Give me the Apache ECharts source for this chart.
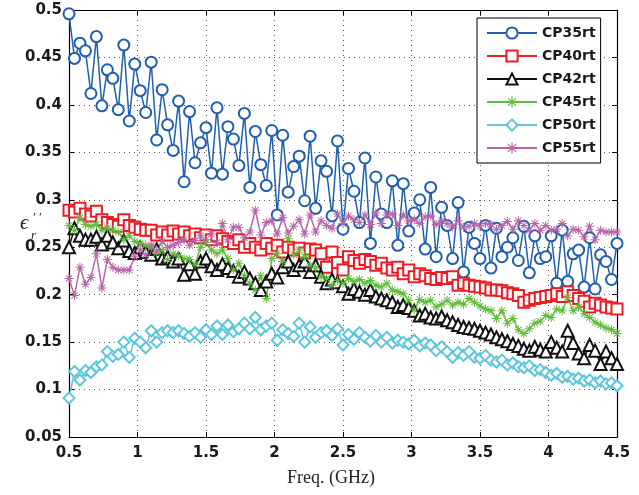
<!DOCTYPE html>
<html>
<head>
<meta charset="utf-8">
<script src="https://cdn.jsdelivr.net/npm/echarts@6/dist/echarts.min.js"></script>
<style>
  html, body { margin: 0; padding: 0; background: #fff; }
  #chart { width: 639px; height: 495px; }
</style>
</head>
<body>
<div id="chart"></div>
<script>
// frequency sweep: 0.5 to 4.5 GHz, 101 points
var fStart = 0.5, fStep = 0.04;

var seriesNames = ['CP35rt', 'CP40rt', 'CP42rt', 'CP45rt', 'CP50rt', 'CP55rt'];

var cp35 = [
  0.496, 0.449, 0.465, 0.457, 0.412, 0.472, 0.399, 0.437, 0.428, 0.395, 0.463,
  0.383, 0.443, 0.415, 0.392, 0.445, 0.363, 0.416, 0.379, 0.352, 0.404,
  0.319, 0.393, 0.339, 0.360, 0.376, 0.328, 0.397, 0.327, 0.377, 0.364,
  0.336, 0.391, 0.313, 0.372, 0.337, 0.315, 0.373, 0.284, 0.368, 0.308,
  0.335, 0.346, 0.299, 0.367, 0.291, 0.341, 0.330, 0.283, 0.362, 0.269,
  0.333, 0.309, 0.276, 0.344, 0.254, 0.324, 0.285, 0.276, 0.320, 0.252,
  0.317, 0.267, 0.286, 0.300, 0.248, 0.313, 0.240, 0.292, 0.273, 0.238,
  0.297, 0.224, 0.271, 0.254, 0.238, 0.273, 0.228, 0.270, 0.240, 0.250,
  0.260, 0.236, 0.272, 0.223, 0.262, 0.238, 0.240, 0.262, 0.212, 0.268,
  0.214, 0.243, 0.247, 0.208, 0.260, 0.206, 0.242, 0.235, 0.216, 0.254
];
var cp40 = [
  0.289, 0.287, 0.291, 0.285, 0.283, 0.288, 0.279, 0.276, 0.274, 0.272, 0.279,
  0.273, 0.271, 0.269, 0.268, 0.268, 0.263, 0.266, 0.263, 0.267, 0.264,
  0.266, 0.262, 0.264, 0.260, 0.263, 0.258, 0.262, 0.259, 0.256, 0.254,
  0.258, 0.250, 0.254, 0.250, 0.247, 0.254, 0.249, 0.252, 0.245, 0.250,
  0.247, 0.249, 0.244, 0.248, 0.247, 0.243, 0.229, 0.245, 0.234, 0.226,
  0.240, 0.236, 0.233, 0.237, 0.235, 0.231, 0.233, 0.228, 0.226, 0.229,
  0.222, 0.226, 0.219, 0.222, 0.220, 0.217, 0.216, 0.218, 0.217, 0.219,
  0.210, 0.212, 0.210, 0.209, 0.208, 0.207, 0.205, 0.205, 0.204, 0.202,
  0.201, 0.199, 0.192, 0.194, 0.196, 0.197, 0.198, 0.199, 0.201, 0.198,
  0.203, 0.199, 0.196, 0.193, 0.187, 0.191, 0.189, 0.187, 0.186, 0.185
];
var cp42 = [
  0.250, 0.270, 0.262, 0.258, 0.258, 0.261, 0.253, 0.262, 0.255, 0.249, 0.257,
  0.246, 0.244, 0.250, 0.245, 0.242, 0.248, 0.238, 0.240, 0.235, 0.238,
  0.221, 0.232, 0.222, 0.235, 0.238, 0.230, 0.226, 0.232, 0.228, 0.225,
  0.219, 0.224, 0.217, 0.212, 0.205, 0.214, 0.222, 0.218, 0.229, 0.235,
  0.226, 0.231, 0.235, 0.224, 0.231, 0.219, 0.212, 0.216, 0.213, 0.209,
  0.201, 0.206, 0.203, 0.200, 0.205, 0.198, 0.196, 0.194, 0.192, 0.187,
  0.189, 0.186, 0.183, 0.178, 0.180, 0.176, 0.175, 0.177, 0.173, 0.171,
  0.168, 0.166, 0.165, 0.164, 0.162, 0.160, 0.158, 0.155, 0.153, 0.151,
  0.148, 0.146, 0.143, 0.141, 0.145, 0.142, 0.140, 0.150, 0.144, 0.140,
  0.162, 0.149, 0.138, 0.133, 0.147, 0.141, 0.127, 0.140, 0.133, 0.127
];
var cp45 = [
  0.273, 0.268, 0.281, 0.274, 0.272, 0.274, 0.268, 0.270, 0.268, 0.266, 0.258,
  0.262, 0.256, 0.254, 0.252, 0.250, 0.244, 0.247, 0.237, 0.243, 0.241,
  0.238, 0.237, 0.232, 0.250, 0.255, 0.247, 0.243, 0.247, 0.238, 0.226,
  0.233, 0.220, 0.212, 0.205, 0.220, 0.196, 0.238, 0.243, 0.235, 0.259,
  0.242, 0.247, 0.240, 0.231, 0.228, 0.219, 0.217, 0.210, 0.215, 0.212,
  0.217, 0.214, 0.216, 0.212, 0.215, 0.210, 0.208, 0.212, 0.205, 0.203,
  0.201, 0.194, 0.184, 0.195, 0.192, 0.194, 0.187, 0.190, 0.194, 0.189,
  0.192, 0.190, 0.196, 0.192, 0.188, 0.185, 0.183, 0.175, 0.183, 0.170,
  0.175, 0.163, 0.159, 0.164, 0.170, 0.172, 0.178, 0.176, 0.185, 0.183,
  0.197, 0.183, 0.187, 0.180, 0.176, 0.171, 0.168, 0.165, 0.163, 0.159
];
var cp50 = [
  0.091, 0.119, 0.110, 0.120, 0.118, 0.124, 0.126, 0.140, 0.135, 0.137, 0.150,
  0.134, 0.154, 0.150, 0.144, 0.162, 0.150, 0.160, 0.162, 0.160, 0.162,
  0.159, 0.156, 0.160, 0.155, 0.163, 0.158, 0.167, 0.158, 0.168, 0.161,
  0.164, 0.170, 0.164, 0.176, 0.163, 0.167, 0.170, 0.152, 0.163, 0.159,
  0.156, 0.170, 0.150, 0.166, 0.155, 0.160, 0.162, 0.157, 0.164, 0.147,
  0.158, 0.153, 0.160, 0.155, 0.151, 0.157, 0.150, 0.155, 0.149, 0.152,
  0.150, 0.148, 0.152, 0.146, 0.149, 0.147, 0.141, 0.145, 0.140, 0.134,
  0.139, 0.136, 0.140, 0.134, 0.133, 0.136, 0.131, 0.129, 0.131, 0.126,
  0.128, 0.124, 0.123, 0.125, 0.120, 0.121, 0.118, 0.115, 0.117, 0.113,
  0.114, 0.111, 0.112, 0.109, 0.110, 0.107, 0.109, 0.106, 0.107, 0.104
];
var cp55 = [
  0.217, 0.199, 0.229, 0.211, 0.218, 0.243, 0.207, 0.237, 0.229, 0.226, 0.226,
  0.226, 0.240, 0.247, 0.242, 0.252, 0.246, 0.256, 0.250, 0.252, 0.255,
  0.258, 0.252, 0.257, 0.262, 0.258, 0.264, 0.255, 0.275, 0.258, 0.271,
  0.271, 0.260, 0.266, 0.289, 0.263, 0.276, 0.278, 0.264, 0.281, 0.265,
  0.272, 0.279, 0.264, 0.284, 0.266, 0.278, 0.273, 0.270, 0.285, 0.275,
  0.283, 0.279, 0.276, 0.284, 0.274, 0.286, 0.275, 0.284, 0.285, 0.273,
  0.284, 0.278, 0.279, 0.275, 0.282, 0.283, 0.274, 0.278, 0.275, 0.271,
  0.278, 0.271, 0.272, 0.275, 0.272, 0.275, 0.274, 0.269, 0.273, 0.277,
  0.269, 0.278, 0.273, 0.268, 0.275, 0.268, 0.273, 0.268, 0.269, 0.275,
  0.262, 0.269, 0.268, 0.261, 0.272, 0.258, 0.268, 0.266, 0.266, 0.266
];

var colors = ['#1f5fae', '#ec1c24', '#111111', '#62bb3e', '#5bc6dc', '#b865ab'];

// asterisk marker (MATLAB '*')
var starPath = 'path://M-1,-9 L1,-9 L1,9 L-1,9 Z M-9,-1 L9,-1 L9,1 L-9,1 Z ' +
  'M-7,-5.6 L-5.6,-7 L7,5.6 L5.6,7 Z M5.6,-7 L7,-5.6 L-5.6,7 L-7,5.6 Z';

function pairs(vals) {
  return vals.map(function (v, i) { return [+(fStart + i * fStep).toFixed(2), v]; });
}

var chart = echarts.init(document.getElementById('chart'));

var labelFont = { fontFamily: 'DejaVu Sans', fontWeight: 'bold', fontSize: 15, color: '#1a1a1a' };

function mkSeries(name, vals, color, symbol, size, empty) {
  return {
    name: name,
    type: 'line',
    data: pairs(vals),
    symbol: symbol,
    symbolSize: size,
    showSymbol: true,
    animation: false,
    lineStyle: { color: color, width: 1.5 },
    itemStyle: empty
      ? { color: color, borderColor: color, borderWidth: 1.5 }
      : { color: color, borderWidth: 0 },
    emphasis: { disabled: true }
  };
}

var option = {
  backgroundColor: '#fff',
  animation: false,
  grid: { left: 69, right: 22, top: 10, bottom: 58 },
  legend: {
    orient: 'vertical',
    left: 477,
    top: 18,
    itemWidth: 50,
    itemHeight: 14,
    itemGap: 9,
    padding: [8, 5, 8, 9],
    borderColor: '#000',
    borderWidth: 1,
    borderRadius: 0,
    backgroundColor: '#fff',
    textStyle: { fontFamily: 'DejaVu Sans', fontWeight: 'bold', fontSize: 14, color: '#1a1a1a' },
    data: seriesNames
  },
  xAxis: [{
    type: 'value',
    min: 0.5, max: 4.5, interval: 0.5,
    axisLine: { show: true, lineStyle: { color: '#000', width: 1.2 } },
    axisTick: { show: true, inside: true, length: 5, lineStyle: { color: '#000' } },
    axisLabel: Object.assign({ margin: 9 }, labelFont),
    splitLine: { show: true, lineStyle: { color: '#555', type: [1, 4], width: 1 } }
  }, {
    type: 'value', position: 'top',
    min: 0.5, max: 4.5, interval: 0.5,
    axisLine: { show: true, onZero: false, lineStyle: { color: '#000', width: 1.2 } },
    axisTick: { show: true, inside: true, length: 5, lineStyle: { color: '#000' } },
    axisLabel: { show: false },
    splitLine: { show: false }
  }],
  yAxis: [{
    type: 'value',
    min: 0.05, max: 0.5, interval: 0.05,
    axisLine: { show: true, lineStyle: { color: '#000', width: 1.2 } },
    axisTick: { show: true, inside: true, length: 5, lineStyle: { color: '#000' } },
    axisLabel: Object.assign({ margin: 7, formatter: function (v) { return String(+v.toFixed(2)); } }, labelFont),
    splitLine: { show: true, lineStyle: { color: '#555', type: [1, 4], width: 1 } }
  }, {
    type: 'value', position: 'right',
    min: 0.05, max: 0.5, interval: 0.05,
    axisLine: { show: true, onZero: false, lineStyle: { color: '#000', width: 1.2 } },
    axisTick: { show: true, inside: true, length: 5, lineStyle: { color: '#000' } },
    axisLabel: { show: false },
    splitLine: { show: false }
  }],
  graphic: [
    { type: 'text', x: 331, y: 478, style: { text: 'Freq. (GHz)', font: '18px "Liberation Serif"', fill: '#222', align: 'center', verticalAlign: 'middle' } },
    { type: 'text', left: 20, top: 213, style: { text: 'ϵ', font: 'italic 21px "Liberation Serif"', fill: '#222' } },
    { type: 'text', left: 31, top: 229, style: { text: 'r', font: 'italic 13px "Liberation Serif"', fill: '#222' } },
    { type: 'text', left: 33, top: 211, style: { text: '′ ′', font: '13px "Liberation Serif"', fill: '#222' } }
  ],
  series: [
    mkSeries('CP35rt', cp35, colors[0], 'emptyCircle', 11, true),
    mkSeries('CP40rt', cp40, colors[1], 'emptyRect', 11, true),
    mkSeries('CP42rt', cp42, colors[2], 'emptyTriangle', 12, true),
    mkSeries('CP45rt', cp45, colors[3], starPath, 9, false),
    mkSeries('CP50rt', cp50, colors[4], 'emptyDiamond', 11, true),
    mkSeries('CP55rt', cp55, colors[5], starPath, 9, false)
  ]
};

chart.setOption(option);
</script>
</body>
</html>
